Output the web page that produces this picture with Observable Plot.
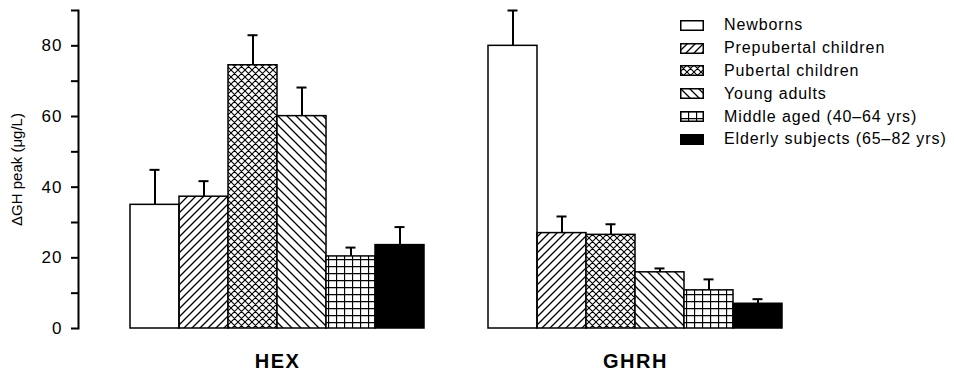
<!DOCTYPE html>
<html>
<head>
<meta charset="utf-8">
<script src="https://cdn.jsdelivr.net/npm/d3@7"></script>
<script src="https://cdn.jsdelivr.net/npm/@observablehq/plot@0.6"></script>
<style>
  html, body { margin: 0; padding: 0; background: #fff; }
  #wrap { position: relative; width: 954px; height: 371px; font-family: "Liberation Sans", Arial, sans-serif; }
  #legend { position: absolute; left: 680px; top: 14px; font-size: 16px; letter-spacing: 0.9px; color: #000; }
  #legend .row { display: flex; align-items: center; height: 22.8px; }
  #legend .row span { margin-left: 20px; }
  g[aria-label="ylabel"] text { letter-spacing: 1px; }
  g[aria-label="y-axis tick label"] text { letter-spacing: 1px; }
  g[aria-label="fx-axis tick label"] text { letter-spacing: 1.5px; }
</style>
</head>
<body>
<svg width="0" height="0" style="position:absolute">
  <defs>
    <pattern id="p-prepub" patternUnits="userSpaceOnUse" width="8" height="8">
      <path d="M-2,2 L2,-2 M0,8 L8,0 M6,10 L10,6" stroke="#000" stroke-width="1.3"/>
    </pattern>
    <pattern id="p-pub" patternUnits="userSpaceOnUse" width="7" height="7">
      <rect width="7" height="7" fill="#fff"/>
      <path d="M-1,1 L1,-1 M0,7 L7,0 M6,8 L8,6 M-1,6 L1,8 M0,0 L7,7 M6,-1 L8,1" stroke="#000" stroke-width="1.1"/>
    </pattern>
    <pattern id="p-young" patternUnits="userSpaceOnUse" width="9" height="9">
      <rect width="9" height="9" fill="#fff"/>
      <path d="M-1,8 L1,10 M0,0 L9,9 M8,-1 L10,1" stroke="#000" stroke-width="1.3"/>
    </pattern>
    <pattern id="p-middle" patternUnits="userSpaceOnUse" width="8" height="7">
      <rect width="8" height="7" fill="#fff"/>
      <path d="M0.5,0 L0.5,7 M0,0.5 L8,0.5" stroke="#000" stroke-width="1.3"/>
    </pattern>
  </defs>
</svg>
<div id="wrap"></div>
<script>
// ---- data ----
const groups = ["HEX", "GHRH"];
const categories = [
  "Newborns",
  "Prepubertal children",
  "Pubertal children",
  "Young adults",
  "Middle aged (40–64 yrs)",
  "Elderly subjects (65–82 yrs)"
];
const hexMean  = [35.0, 37.3, 74.5, 60.1, 20.4, 23.6];
const hexUpper = [44.9, 41.7, 83.0, 68.2, 22.9, 28.7];
const ghrhMean  = [80.0, 27.0, 26.5, 15.9, 10.8, 7.0];
const ghrhUpper = [90.0, 31.7, 29.5, 17.0, 13.9, 8.3];
const majorTicks = [0, 20, 40, 60, 80];
const minorTicks = [10, 30, 50, 70, 90];
const yLabel = "ΔGH peak (μg/L)";
const fills = ["#fff", "url(#p-prepub)", "url(#p-pub)", "url(#p-young)", "url(#p-middle)", "#000"];

const rows = [];
categories.forEach((c, i) => {
  rows.push({group: "HEX", category: c, mean: hexMean[i], upper: hexUpper[i]});
  rows.push({group: "GHRH", category: c, mean: ghrhMean[i], upper: ghrhUpper[i]});
});

const font = "'Liberation Sans', Arial, sans-serif";

const chart = Plot.plot({
  width: 954,
  height: 371,
  marginLeft: 78,
  marginRight: 171,
  marginTop: 10,
  marginBottom: 43,
  style: {fontFamily: font, background: "#fff", color: "#000"},
  fx: {domain: groups, paddingInner: 0.0335, paddingOuter: 0},
  x: {domain: categories, paddingInner: 0, paddingOuter: 0.53, align: 1, axis: null},
  y: {domain: [0, 90]},
  color: {domain: categories, range: fills},
  marks: [
    Plot.frame({anchor: "left", facetAnchor: "left", stroke: "#000", strokeWidth: 2}),
    Plot.barY(rows, {fx: "group", x: "category", y: "mean", fill: "category", stroke: "#000", strokeWidth: 1.5}),
    Plot.ruleX(rows, {fx: "group", x: "category", y1: "mean", y2: "upper", stroke: "#000", strokeWidth: 2}),
    Plot.tickY(rows, {fx: "group", x: "category", y: "upper", stroke: "#000", strokeWidth: 2, insetLeft: 19.5, insetRight: 19.5}),
    Plot.axisY({ticks: minorTicks, tickSize: 7, tickFormat: () => "", label: null, strokeWidth: 2}),
    Plot.axisY({ticks: majorTicks, tickSize: 7, tickPadding: 9, fontSize: 17, strokeWidth: 2, label: null}),
    Plot.text([yLabel], {frameAnchor: "left", facetAnchor: "left", rotate: -90, dx: -61, fontSize: 15,
      textAnchor: "middle", ariaLabel: "ylabel"}),
    Plot.axisFx({anchor: "bottom", tickSize: 0, tickPadding: 25, fontSize: 20, fontWeight: "bold", dx: 26, label: null})
  ]
});

const wrap = document.getElementById("wrap");
wrap.appendChild(chart);

// legend drawn from the chart's own color scale
const color = chart.scale("color");
const legend = d3.select(wrap).append("div").attr("id", "legend");
categories.forEach(c => {
  const row = legend.append("div").attr("class", "row");
  const s = row.append("svg").attr("width", 24).attr("height", 11);
  s.append("rect").attr("x", 0.75).attr("y", 0.75).attr("width", 22.5).attr("height", 9.5)
    .attr("fill", color.apply(c)).attr("stroke", "#000").attr("stroke-width", 1.5);
  row.append("span").text(c);
});
</script>
</body>
</html>
